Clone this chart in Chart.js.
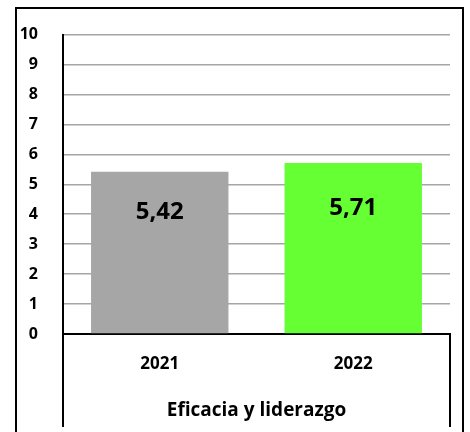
<!DOCTYPE html>
<html>
<head>
<meta charset="utf-8">
<script src="https://cdn.jsdelivr.net/npm/chart.js@4.4.1/dist/chart.umd.min.js"></script>
<style>
  html, body { margin: 0; padding: 0; background: #fff; }
  #wrap { width: 470px; height: 432px; }
</style>
</head>
<body>
<div id="wrap"><canvas id="chart" width="470" height="432"></canvas></div>
<script>
// data
const categories = ['2021', '2022'];
const values = [5.42, 5.71];
const barColors = ['#a6a6a6', '#66ff33'];
const yTicks = [0, 1, 2, 3, 4, 5, 6, 7, 8, 9, 10];
const axisTitle = 'Eficacia y liderazgo';

const FONT = "'Open Sans', 'Noto Sans', sans-serif";

// outer frame + box under the category axis
const framePlugin = {
  id: 'frame',
  afterDraw(chart) {
    const { ctx, chartArea } = chart;
    const h = chart.height;
    ctx.save();
    ctx.strokeStyle = '#000';
    ctx.lineWidth = 2;
    ctx.beginPath();
    ctx.moveTo(16, h);
    ctx.lineTo(16, 8);
    ctx.lineTo(463, 8);
    ctx.lineTo(463, h);
    ctx.stroke();

    ctx.beginPath();
    ctx.moveTo(chartArea.left, chartArea.bottom);
    ctx.lineTo(chartArea.left, h - 5);
    ctx.moveTo(chartArea.right, chartArea.bottom);
    ctx.lineTo(chartArea.right, h - 5);
    ctx.stroke();
    ctx.restore();
  }
};

// value labels inside bars
const valueLabels = {
  id: 'valueLabels',
  afterDatasetsDraw(chart) {
    const { ctx } = chart;
    const meta = chart.getDatasetMeta(0);
    ctx.save();
    ctx.fillStyle = '#000';
    ctx.font = 'bold 24px ' + FONT;
    ctx.textAlign = 'center';
    ctx.textBaseline = 'middle';
    meta.data.forEach((bar, i) => {
      const v = values[i].toFixed(2).replace('.', ',');
      ctx.fillText(v, bar.x, (bar.y + bar.base) / 2 - 40);
    });
    ctx.restore();
  }
};

new Chart(document.getElementById('chart'), {
  type: 'bar',
  data: {
    labels: categories,
    datasets: [{
      data: values,
      backgroundColor: barColors,
      borderWidth: 0,
      categoryPercentage: 1,
      barPercentage: 0.71,
    }],
  },
  options: {
    responsive: false,
    animation: false,
    layout: { padding: { left: 0, right: 20, top: 33, bottom: 0 } },
    plugins: {
      legend: { display: false },
      tooltip: { enabled: false },
    },
    scales: {
      y: {
        min: 0,
        max: 10,
        afterBuildTicks(scale) {
          scale.ticks = yTicks.map(v => ({ value: v }));
        },
        afterFit(scale) { scale.width = 63; },
        ticks: {
          color: '#000',
          padding: 25,
          font: { family: FONT, size: 16, weight: 'bold' },
        },
        grid: {
          color: '#a6a6a6',
          lineWidth: 1.5,
          drawTicks: false,
        },
        border: { display: true, color: '#000', width: 2 },
      },
      x: {
        afterFit(scale) { scale.height = 98; },
        ticks: {
          color: '#000',
          padding: 20,
          font: { family: FONT, size: 17, weight: 'bold' },
        },
        grid: { display: false, drawTicks: false },
        border: { display: true, color: '#000', width: 2 },
        title: {
          display: true,
          text: axisTitle,
          color: '#000',
          padding: { top: 0, bottom: 10 },
          font: { family: FONT, size: 19, weight: 'bold' },
        },
      },
    },
  },
  plugins: [framePlugin, valueLabels],
});
</script>
</body>
</html>
